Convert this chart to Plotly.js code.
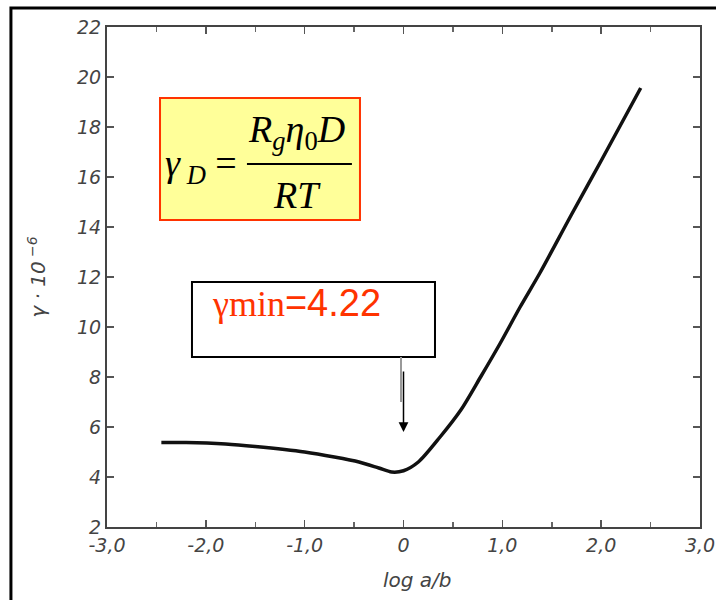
<!DOCTYPE html>
<html><head><meta charset="utf-8">
<script src="https://cdn.plot.ly/plotly-3.0.1.min.js"></script>
<style>html,body{margin:0;padding:0;background:#fff}#chart{width:716px;height:600px}</style>
</head><body><div id="chart"></div>
<script>
// Curve values
const logAB = [-2.45, -2.2, -1.8, -1.5, -1.0, -0.7, -0.45, -0.25, -0.12, 0.0, 0.15, 0.37, 0.58, 0.78, 0.98, 1.18, 1.38, 1.7, 2.0, 2.4];
const gamma = [5.38, 5.38, 5.32, 5.22, 5.0, 4.8, 4.6, 4.36, 4.2, 4.25, 4.6, 5.6, 6.68, 8.0, 9.36, 10.8, 12.16, 14.5, 16.65, 19.56];
const xTickVals = [-3, -2, -1, 0, 1, 2, 3];
const xTickText = ['-3,0', '-2,0', '-1,0', '0', '1,0', '2,0', '3,0'];
const yTickVals = [2, 4, 6, 8, 10, 12, 14, 16, 18, 20, 22];
const yTickText = ['2', '4', '6', '8', '10', '12', '14', '16', '18', '20', '22'];
const gammaMin = 4.22;
const xTitle = 'log a/b';

const tickFont = {family: 'DejaVu Sans, sans-serif', size: 19, color: '#444', style: 'italic'};

const trace = {
  x: logAB, y: gamma, type: 'scatter', mode: 'lines',
  line: {color: '#111', width: 3.5, shape: 'spline', smoothing: 0.8},
  hoverinfo: 'skip'
};

const axisCommon = {
  showgrid: false, zeroline: false, showline: true, linecolor: '#444', linewidth: 2,
  ticks: 'inside', ticklen: 7, tickcolor: '#555', tickwidth: 1.5, mirror: 'ticks',
  tickfont: tickFont
};

const layout = {
  width: 716, height: 600,
  margin: {l: 107, r: 16, t: 27, b: 73},
  paper_bgcolor: '#fff', plot_bgcolor: '#fff',
  showlegend: false,
  xaxis: Object.assign({}, axisCommon, {
    range: [-3, 3], tickvals: xTickVals, ticktext: xTickText,
    minor: {dtick: 0.5, ticks: 'inside', ticklen: 5, tickcolor: '#666', showgrid: false}
  }),
  yaxis: Object.assign({}, axisCommon, {
    range: [2, 22], tickvals: yTickVals, ticktext: yTickText,
    title: {text: 'γ · 10<sup> −6</sup>', font: {family: 'DejaVu Sans, sans-serif', size: 20, color: '#444', style: 'italic'}, standoff: 26}
  }),
  shapes: [
    {type: 'rect', xref: 'paper', yref: 'paper', x0: -0.162, x1: 1.06, y0: -0.2, y1: 1.038, line: {color: '#000', width: 3}, fillcolor: 'rgba(0,0,0,0)', layer: 'above'},
    {type: 'rect', xref: 'paper', yref: 'paper', x0: 0.0894, x1: 0.4266, y0: 0.614, y1: 0.858, line: {color: '#ff3300', width: 2}, fillcolor: '#ffff99', layer: 'above'},
    {type: 'line', xref: 'paper', yref: 'paper', x0: 0.236, x1: 0.413, y0: 0.726, y1: 0.726, line: {color: '#000', width: 2}, layer: 'above'},
    {type: 'rect', xref: 'paper', yref: 'paper', x0: 0.1433, x1: 0.5531, y0: 0.34, y1: 0.49, line: {color: '#000', width: 2}, fillcolor: '#fff', layer: 'above'},
    {type: 'line', xref: 'paper', yref: 'paper', x0: 0.4958, x1: 0.4958, y0: 0.25, y1: 0.34, line: {color: '#999', width: 2}, layer: 'above'}
  ],
  annotations: [
    {xref: 'paper', yref: 'paper', x: 0.524, y: -0.106, xanchor: 'center', yanchor: 'middle', showarrow: false,
     text: xTitle, font: {family: 'DejaVu Sans, sans-serif', size: 20, color: '#444', style: 'italic'}},
    {xref: 'paper', yref: 'paper', x: 0.0944, y: 0.722, xanchor: 'left', yanchor: 'middle', showarrow: false,
     text: '<i>γ</i><sub><i> D</i></sub> =', font: {family: 'Liberation Serif, serif', size: 38, color: '#000'}},
    {xref: 'paper', yref: 'paper', x: 0.3204, y: 0.79, xanchor: 'center', yanchor: 'middle', showarrow: false,
     text: '<i>R</i><sub><i>g</i></sub><i>η</i><sub>0</sub><i>D</i>', font: {family: 'Liberation Serif, serif', size: 38, color: '#000'}},
    {xref: 'paper', yref: 'paper', x: 0.3204, y: 0.664, xanchor: 'center', yanchor: 'middle', showarrow: false,
     text: '<i>RT</i>', font: {family: 'Liberation Serif, serif', size: 38, color: '#000'}},
    {xref: 'paper', yref: 'paper', x: 0.174, y: 0.448, xanchor: 'left', yanchor: 'middle', showarrow: false,
     text: 'γmin<span style="font-family:Liberation Sans, Arial, sans-serif;font-size:38px">=' + gammaMin.toFixed(2) + '</span>', font: {family: 'Liberation Serif, serif', size: 36, color: '#ff3300'}},
    {x: 0, y: 5.8, xref: 'x', yref: 'y', ax: 0, ay: -62, text: '', showarrow: true, arrowhead: 2, arrowsize: 1.3, arrowwidth: 1.5, arrowcolor: '#000'}
  ]
};

Plotly.newPlot('chart', [trace], layout, {displayModeBar: false, staticPlot: true});
</script></body></html>
